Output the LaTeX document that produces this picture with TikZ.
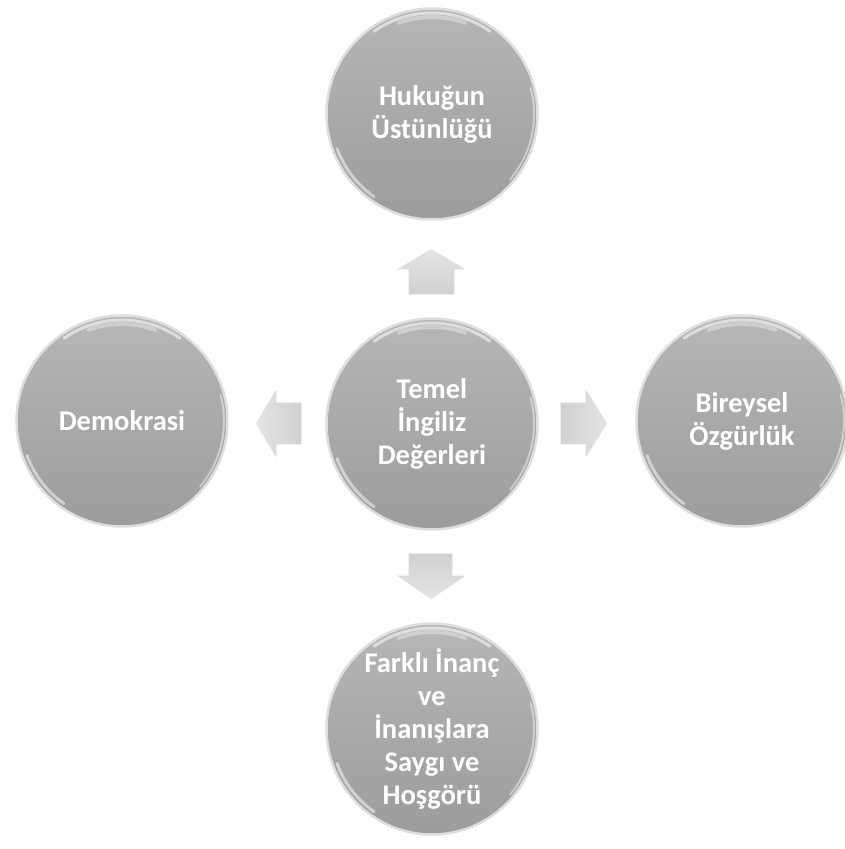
\documentclass[tikz,border=0pt]{standalone}
\usepackage{fontspec}
\setmainfont{Carlito}
\usetikzlibrary{calc}
\definecolor{ballTop}{RGB}{182,182,182}
\definecolor{ballBot}{RGB}{156,156,156}
\definecolor{ballRim}{RGB}{222,222,222}
\definecolor{arrTop}{RGB}{228,228,228}
\definecolor{arrBot}{RGB}{208,208,208}
\tikzset{
  ball/.style={circle, minimum size=211pt, inner sep=0pt, outer sep=0pt,
    top color=ballTop, bottom color=ballBot, draw=ballRim, line width=2.5pt,
    text=white, align=center, font=\bfseries\fontsize{28.5}{33}\selectfont},
  hilite/.style={white, line width=3pt, opacity=0.55, line cap=round},
  blockarrow/.style={draw=white, line width=1.2pt, line join=miter},
}
\begin{document}
\begin{tikzpicture}[x=1pt,y=1pt]
\useasboundingbox (0,0) rectangle (845,849);
% circles
\node[ball] (c) at (432,425) {Temel\\İngiliz\\Değerleri};
\node[ball] (t) at (432,735) {Hukuğun\\Üstünlüğü};
\node[ball] (l) at (122,428) {Demokrasi};
\node[ball] (r) at (742,428) {Bireysel\\Özgürlük};
\node[ball] (b) at (432,120) {Farklı İnanç\\ve\\İnanışlara\\Saygı ve\\Hoşgörü};
% soft highlights
\foreach \n in {c,t,l,r,b}{
  \draw[hilite] ($(\n.center)+(55:101pt)$) arc[start angle=55,end angle=125,radius=101pt];
  \draw[hilite, opacity=0.35, line width=4pt] ($(\n.center)+(70:97pt)$) arc[start angle=70,end angle=110,radius=97pt];
  \draw[hilite, opacity=0.5] ($(\n.center)+(200:101pt)$) arc[start angle=200,end angle=235,radius=101pt];
  \draw[hilite, opacity=0.45, line width=2pt] ($(\n.center)+(-40:102pt)$) arc[start angle=-40,end angle=15,radius=102pt];
}
% block arrows
% up (center -> top)
\path[blockarrow, top color=arrTop, bottom color=arrBot]
  (408,554) -- (408,579) -- (395,579) -- (431,601) -- (468,579) -- (455,579) -- (455,554) -- cycle;
% down (center -> bottom)
\path[blockarrow, top color=arrBot, bottom color=arrTop]
  (408,296) -- (408,274) -- (395,274) -- (431,249) -- (468,274) -- (453,274) -- (453,296) -- cycle;
% left (center -> left)
\path[blockarrow, left color=arrTop, right color=arrBot]
  (302,447) -- (277,447) -- (277,462) -- (255,425.5) -- (277,389) -- (277,404) -- (302,404) -- cycle;
% right (center -> right)
\path[blockarrow, left color=arrBot, right color=arrTop]
  (560,447) -- (585,447) -- (585,462) -- (608,425.5) -- (585,389) -- (585,404) -- (560,404) -- cycle;
\end{tikzpicture}
\end{document}
